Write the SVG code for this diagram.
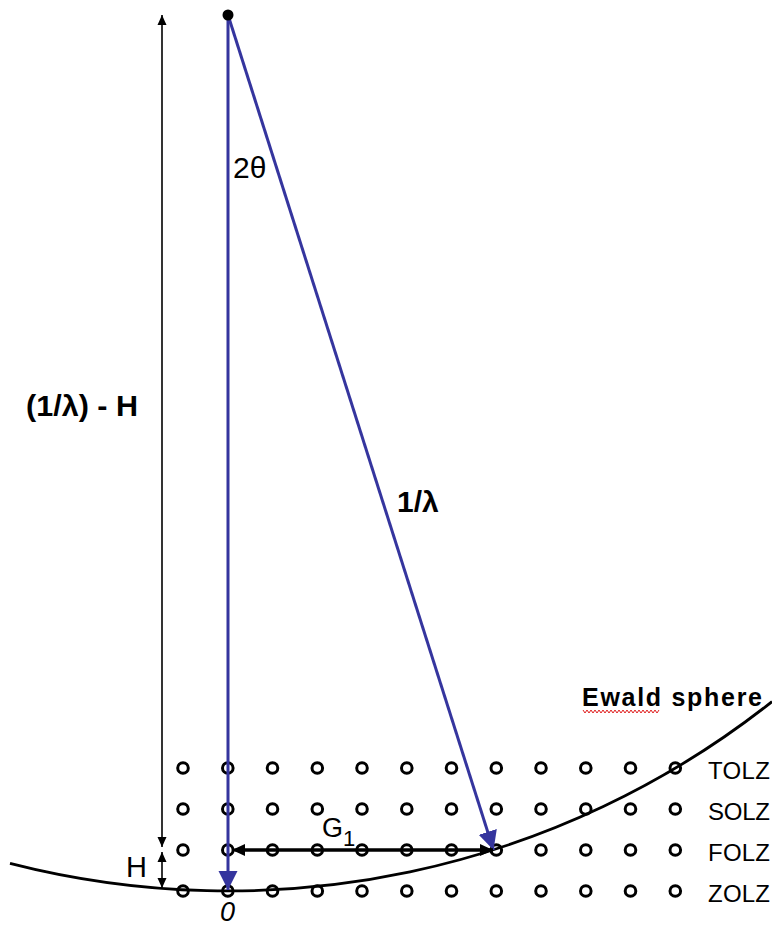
<svg xmlns="http://www.w3.org/2000/svg" width="772" height="928" viewBox="0 0 772 928">
<style>
.pt{fill:none;stroke:#000;stroke-width:3}
.lbl{font-family:"Liberation Sans",Arial,sans-serif;fill:#000}
.b{font-weight:bold}
.big{font-size:30px}
.lz{font-size:24px}
.blue{stroke:#35359e;stroke-width:3;fill:none}
.blk{stroke:#000;fill:none}
</style>
<defs>
<marker id="ab" markerUnits="userSpaceOnUse" markerWidth="20" markerHeight="20" viewBox="0 0 20 20" refX="19" refY="10" orient="auto"><path d="M0,0.5 L19,10 L0,19.5 Z" fill="#35359e"/></marker>
<marker id="ak" markerUnits="userSpaceOnUse" markerWidth="14" markerHeight="14" viewBox="0 0 14 14" refX="13" refY="7" orient="auto"><path d="M0,1 L13,7 L0,13 Z" fill="#000"/></marker>
<marker id="aks" markerUnits="userSpaceOnUse" markerWidth="10" markerHeight="10" viewBox="0 0 10 10" refX="10" refY="5" orient="auto"><path d="M0,0.5 L10,5 L0,9.5 Z" fill="#000"/></marker>
</defs>
<g id="lattice">
<g id="row-TOLZ">
<circle class="pt" cx="183" cy="768" r="5.3"/><circle class="pt" cx="227.8" cy="768" r="5.3"/><circle class="pt" cx="272.5" cy="768" r="5.3"/><circle class="pt" cx="317.3" cy="768" r="5.3"/><circle class="pt" cx="362" cy="768" r="5.3"/><circle class="pt" cx="406.8" cy="768" r="5.3"/><circle class="pt" cx="451.5" cy="768" r="5.3"/><circle class="pt" cx="496.3" cy="768" r="5.3"/><circle class="pt" cx="541" cy="768" r="5.3"/><circle class="pt" cx="585.8" cy="768" r="5.3"/><circle class="pt" cx="630.5" cy="768" r="5.3"/><circle class="pt" cx="675.3" cy="768" r="5.3"/>
</g>
<g id="row-SOLZ">
<circle class="pt" cx="183" cy="809" r="5.3"/><circle class="pt" cx="227.8" cy="809" r="5.3"/><circle class="pt" cx="272.5" cy="809" r="5.3"/><circle class="pt" cx="317.3" cy="809" r="5.3"/><circle class="pt" cx="362" cy="809" r="5.3"/><circle class="pt" cx="406.8" cy="809" r="5.3"/><circle class="pt" cx="451.5" cy="809" r="5.3"/><circle class="pt" cx="496.3" cy="809" r="5.3"/><circle class="pt" cx="541" cy="809" r="5.3"/><circle class="pt" cx="585.8" cy="809" r="5.3"/><circle class="pt" cx="630.5" cy="809" r="5.3"/><circle class="pt" cx="675.3" cy="809" r="5.3"/>
</g>
<g id="row-FOLZ">
<circle class="pt" cx="183" cy="850" r="5.3"/><circle class="pt" cx="227.8" cy="850" r="5.3"/><circle class="pt" cx="272.5" cy="850" r="5.3"/><circle class="pt" cx="317.3" cy="850" r="5.3"/><circle class="pt" cx="362" cy="850" r="5.3"/><circle class="pt" cx="406.8" cy="850" r="5.3"/><circle class="pt" cx="451.5" cy="850" r="5.3"/><circle class="pt" cx="496.3" cy="850" r="5.3"/><circle class="pt" cx="541" cy="850" r="5.3"/><circle class="pt" cx="585.8" cy="850" r="5.3"/><circle class="pt" cx="630.5" cy="850" r="5.3"/><circle class="pt" cx="675.3" cy="850" r="5.3"/>
</g>
<g id="row-ZOLZ">
<circle class="pt" cx="183" cy="891" r="5.3"/><circle class="pt" cx="227.8" cy="891" r="5.3"/><circle class="pt" cx="272.5" cy="891" r="5.3"/><circle class="pt" cx="317.3" cy="891" r="5.3"/><circle class="pt" cx="362" cy="891" r="5.3"/><circle class="pt" cx="406.8" cy="891" r="5.3"/><circle class="pt" cx="451.5" cy="891" r="5.3"/><circle class="pt" cx="496.3" cy="891" r="5.3"/><circle class="pt" cx="541" cy="891" r="5.3"/><circle class="pt" cx="585.8" cy="891" r="5.3"/><circle class="pt" cx="630.5" cy="891" r="5.3"/><circle class="pt" cx="675.3" cy="891" r="5.3"/>
</g>
</g>
<g id="ewald-sphere">
<path d="M 10 863.4 A 876 876 0 0 0 772 701.6" stroke="#000" stroke-width="2.8" fill="none"/>
<text class="lbl b" x="582" y="706" style="font-size:25px" textLength="180" lengthAdjust="spacing">Ewald sphere</text>
<polyline points="583,710 585,713 587,710 589,713 591,710 593,713 595,710 597,713 599,710 601,713 603,710 605,713 607,710 609,713 611,710 613,713 615,710 617,713 619,710 621,713 623,710 625,713 627,710 629,713 631,710 633,713 635,710 637,713 639,710 641,713 643,710 645,713 647,710 649,713 651,710 653,713 655,710 657,713 659,710" fill="none" stroke="#e02020" stroke-width="1"/>
</g>
<g id="connectors">
<line class="blue" x1="228" y1="15" x2="228" y2="890" marker-end="url(#ab)"/>
<line class="blue" x1="228" y1="15" x2="493.5" y2="850" marker-end="url(#ab)"/>
<line class="blk" stroke-width="3" x1="493" y1="850" x2="232" y2="850" marker-end="url(#ak)"/>
<line class="blk" stroke-width="3" x1="240" y1="850" x2="493" y2="850" marker-end="url(#ak)"/>
<line class="blk" stroke-width="1.6" x1="162" y1="430" x2="162" y2="15" marker-end="url(#aks)"/>
<line class="blk" stroke-width="1.6" x1="162" y1="430" x2="162" y2="847" marker-end="url(#aks)"/>
<line class="blk" stroke-width="1.6" x1="162" y1="870" x2="162" y2="852" marker-end="url(#aks)"/>
<line class="blk" stroke-width="1.6" x1="162" y1="870" x2="162" y2="888" marker-end="url(#aks)"/>
</g>
<g id="source">
<circle cx="228" cy="15" r="5.5" fill="#000"/>
</g>
<g id="labels">
<text class="lbl big" x="233" y="178">2θ</text>
<text class="lbl b big" x="26" y="416" textLength="112" lengthAdjust="spacingAndGlyphs">(1/λ) - H</text>
<text class="lbl b big" x="397" y="512">1/λ</text>
<text class="lbl" x="126" y="877" style="font-size:29px">H</text>
<text class="lbl" x="322" y="837" style="font-size:27px">G<tspan style="font-size:22px" dy="9">1</tspan></text>
<text class="lbl" x="220" y="921" style="font-size:27px;font-style:italic">0</text>
<text class="lbl lz" x="708" y="779" textLength="62" lengthAdjust="spacing">TOLZ</text>
<text class="lbl lz" x="708" y="820" textLength="62" lengthAdjust="spacing">SOLZ</text>
<text class="lbl lz" x="708" y="861" textLength="62" lengthAdjust="spacing">FOLZ</text>
<text class="lbl lz" x="708" y="902" textLength="62" lengthAdjust="spacing">ZOLZ</text>
</g>
</svg>
